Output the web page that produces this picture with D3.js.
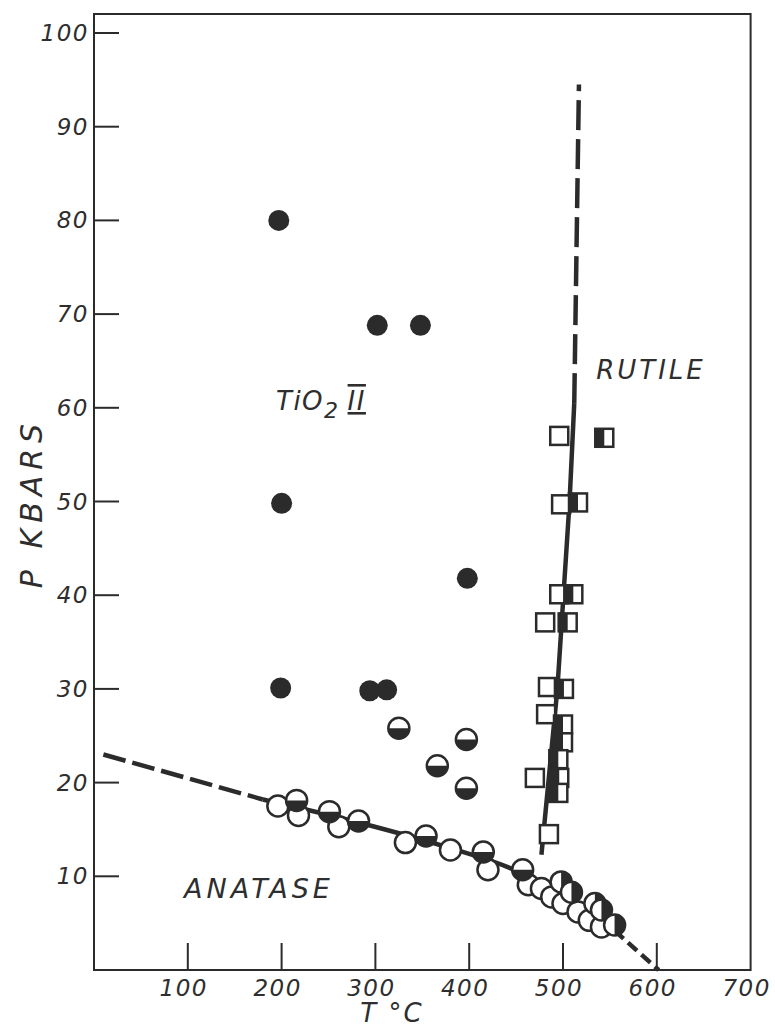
<!DOCTYPE html>
<html>
<head>
<meta charset="utf-8">
<script src="https://cdn.jsdelivr.net/npm/d3@7"></script>
<style>
    body { margin: 0; background: #fff; }
    svg text { font-family: "DejaVu Sans", sans-serif; font-style: italic; fill: #2e2e2e; }
</style>
</head>
<body>
<svg id="chart" width="775" height="1029"></svg>
<script>
// TiO2 II (filled circles)
const tio2Filled = [[197, 80], [302, 68.8], [348, 68.8], [200, 49.8], [398, 41.8], [199, 30.1], [294, 29.8], [312, 29.9]];
// partial conversion, bottom half filled
const tio2Half = [[325, 25.8], [366, 21.8], [397, 24.6], [397, 19.4]];
// anatase runs
const anataseOpen = [[196, 17.5], [218, 16.5], [261, 15.3], [332, 13.6], [380, 12.8], [420, 10.7],
    [463, 9.1], [477, 8.7], [488, 7.8], [500, 7.1], [516, 6.2], [528, 5.3], [541, 4.6]];
const anataseHalf = [[216, 18.1], [251, 16.9], [282, 15.9], [354, 14.3], [415, 12.6], [457, 10.7]];
const anataseRutile = [[498, 9.4], [509, 8.3], [534, 7.1], [541, 6.4], [555, 4.8]];
// rutile runs (squares)
const rutileOpen = [[496, 57], [498, 49.7], [496, 40.1], [481, 37.1], [484, 30.2], [482, 27.3], [470, 20.5], [485, 14.5]];
const rutileHalf = [[544, 56.8], [516, 49.9], [511, 40.1], [505, 37.1], [501, 30], [500, 26.2],
    [500, 24.3], [495, 22.5], [496, 20.5], [495, 18.9]];

// phase boundaries
const anataseDashLeft = [[10, 23], [180, 18.2]];
const anataseSolid = [[180, 18.2], [280, 15.8], [380, 13], [450, 10.6], [500, 7.9], [555, 4.2]];
const anataseDashRight = [[555, 4.2], [602, 0]];
const rutileSolid = [[477, 12.3], [494, 30], [507, 50], [512, 60.5]];
const rutileDash = [[512, 60.5], [517, 94.5]];

const xTicks = [100, 200, 300, 400, 500, 600, 700];
const yTicks = [10, 20, 30, 40, 50, 60, 70, 80, 90, 100];

var ink = "#2b2b2b";
var svg = d3.select("#chart");

var x = d3.scaleLinear().domain([0, 700]).range([94, 750.6]);
var y = d3.scaleLinear().domain([0, 100]).range([970, 33]);

// frame
svg.append("rect")
    .attr("x", x(0)).attr("y", 14)
    .attr("width", x(700) - x(0)).attr("height", y(0) - 14)
    .attr("fill", "none").attr("stroke", ink).attr("stroke-width", 2);

// y ticks, drawn inward
svg.append("g").selectAll("line").data(yTicks).join("line")
    .attr("x1", x(0)).attr("x2", x(0) + 25)
    .attr("y1", d => y(d)).attr("y2", d => y(d))
    .attr("stroke", ink).attr("stroke-width", 2);
svg.append("g").selectAll("text").data(yTicks).join("text")
    .attr("x", x(0) - 5).attr("y", d => y(d) + 8)
    .attr("text-anchor", "end").attr("font-size", 23)
    .attr("letter-spacing", 1.5)
    .text(d => d);

// x ticks, drawn upward from the bottom
svg.append("g").selectAll("line").data(xTicks.filter(d => d < 700)).join("line")
    .attr("x1", d => x(d)).attr("x2", d => x(d))
    .attr("y1", y(0)).attr("y2", y(0) - 27)
    .attr("stroke", ink).attr("stroke-width", 2);
svg.append("g").selectAll("text").data(xTicks).join("text")
    .attr("x", d => x(d) - 4).attr("y", 996)
    .attr("text-anchor", "middle").attr("font-size", 23)
    .attr("letter-spacing", 1.5)
    .text(d => d);

// axis titles
svg.append("text")
    .attr("transform", "translate(42,503) rotate(-90)")
    .attr("text-anchor", "middle").attr("font-size", 30)
    .attr("letter-spacing", 6)
    .text("P  KBARS");
svg.append("text")
    .attr("x", 392).attr("y", 1022)
    .attr("text-anchor", "middle").attr("font-size", 26)
    .attr("letter-spacing", 2)
    .text("T  °C");

// boundary lines
var line = d3.line().x(d => x(d[0])).y(d => y(d[1])).curve(d3.curveMonotoneX);
var lineV = d3.line().x(d => x(d[0])).y(d => y(d[1]));

function drawLine(data, gen, dash) {
    svg.append("path")
        .datum(data)
        .attr("d", gen)
        .attr("fill", "none")
        .attr("stroke", ink)
        .attr("stroke-width", 4.5)
        .attr("stroke-dasharray", dash);
}
drawLine(anataseDashLeft, lineV, "23,7");
drawLine(anataseSolid, line, null);
drawLine(anataseDashRight, lineV, "12,6");
drawLine(rutileSolid, lineV, null);
drawLine(rutileDash, lineV, "30,9");

// markers
var r = 10.5, s = 18;
var halfArc = function (a0, a1) {
    return d3.arc()({ innerRadius: 0, outerRadius: r, startAngle: a0, endAngle: a1 });
};

function circles(data, half) {
    var g = svg.append("g").selectAll("g").data(data).join("g")
        .attr("transform", d => `translate(${x(d[0])},${y(d[1])})`);
    g.append("circle").attr("r", r).attr("fill", "#fff");
    if (half) {
        g.append("path").attr("d", half).attr("fill", ink);
    }
    g.append("circle").attr("r", r)
        .attr("fill", "none").attr("stroke", ink).attr("stroke-width", 2.5);
}

function squares(data, half) {
    var g = svg.append("g").selectAll("g").data(data).join("g")
        .attr("transform", d => `translate(${x(d[0])},${y(d[1])})`);
    g.append("rect").attr("x", -s / 2).attr("y", -s / 2)
        .attr("width", s).attr("height", s).attr("fill", "#fff");
    if (half) {
        g.append("rect").attr("x", -s / 2).attr("y", -s / 2)
            .attr("width", s / 2).attr("height", s).attr("fill", ink);
    }
    g.append("rect").attr("x", -s / 2).attr("y", -s / 2)
        .attr("width", s).attr("height", s)
        .attr("fill", "none").attr("stroke", ink).attr("stroke-width", 2.5);
}

squares(rutileOpen, false);
squares(rutileHalf, true);

circles(anataseOpen, null);
circles(anataseHalf, halfArc(Math.PI / 2, Math.PI * 1.5));
circles(anataseRutile, halfArc(0, Math.PI));
circles(tio2Half, halfArc(Math.PI / 2, Math.PI * 1.5));

svg.append("g").selectAll("circle").data(tio2Filled).join("circle")
    .attr("cx", d => x(d[0])).attr("cy", d => y(d[1]))
    .attr("r", r).attr("fill", ink);

// field labels
svg.append("text")
    .attr("x", 259).attr("y", 898)
    .attr("text-anchor", "middle").attr("font-size", 27)
    .attr("letter-spacing", 4)
    .text("ANATASE");
svg.append("text")
    .attr("x", 651).attr("y", 379)
    .attr("text-anchor", "middle").attr("font-size", 26)
    .attr("letter-spacing", 3)
    .text("RUTILE");

var tio = svg.append("text")
    .attr("x", 276).attr("y", 410)
    .attr("font-size", 26)
    .attr("letter-spacing", 1.5);
tio.append("tspan").text("TiO");
tio.append("tspan").attr("dy", 8).attr("font-size", 22).text("2");
tio.append("tspan").attr("dy", -8).attr("dx", 8)
    .attr("text-decoration", "overline underline")
    .text("II");
</script>
</body>
</html>
